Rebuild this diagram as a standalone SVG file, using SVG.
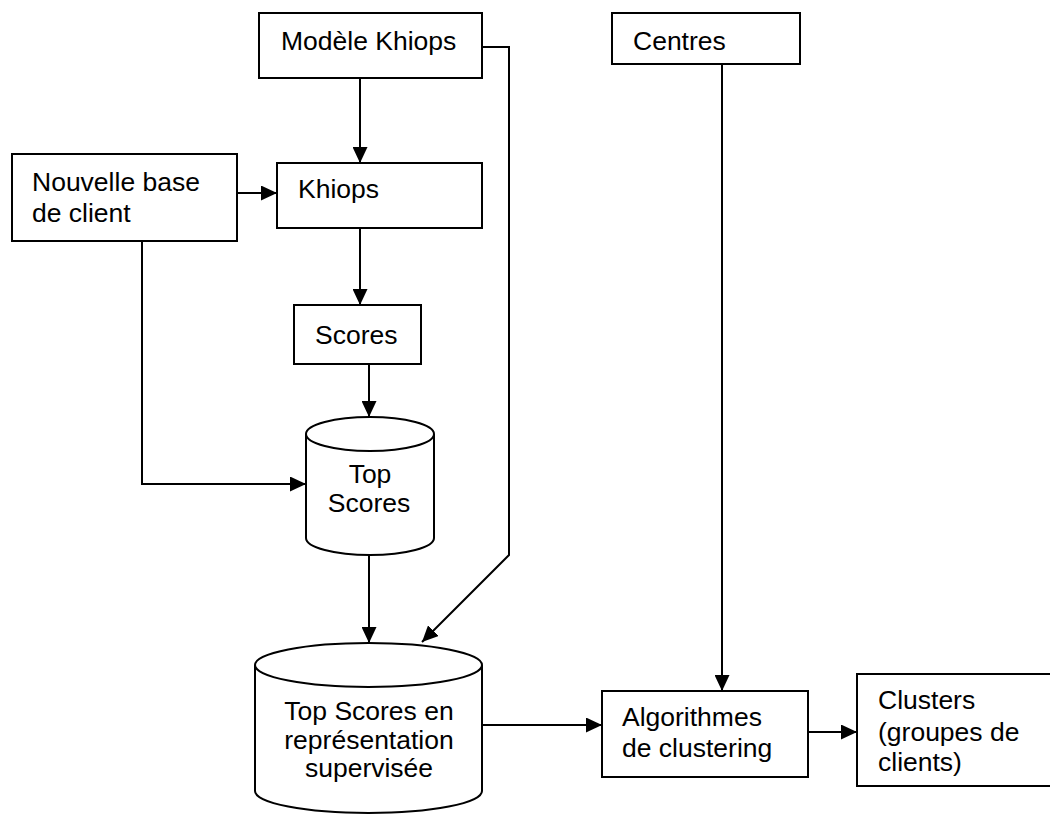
<svg xmlns="http://www.w3.org/2000/svg" width="1050" height="822" viewBox="0 0 1050 822">
<style>
.box{fill:#fff;stroke:#000;stroke-width:2}
.t{font-family:"Liberation Sans",Arial,Helvetica,sans-serif;font-size:26.5px;fill:#000}
.c{text-anchor:middle}
.ln{fill:none;stroke:#000;stroke-width:2}
</style>
<defs>
<marker id="ah" markerUnits="userSpaceOnUse" markerWidth="17" markerHeight="15" refX="16" refY="7.5" orient="auto">
<path d="M0,0 L16,7.5 L0,15 z" fill="#000"/>
</marker>
</defs>
<rect width="1050" height="822" fill="#fff"/>
<g id="connectors">
<path class="ln" d="M360,78 V163" marker-end="url(#ah)"/>
<path class="ln" d="M237,193 H277" marker-end="url(#ah)"/>
<path class="ln" d="M360,228 V305" marker-end="url(#ah)"/>
<path class="ln" d="M369,364 V417" marker-end="url(#ah)"/>
<path class="ln" d="M142,241 V484 H306" marker-end="url(#ah)"/>
<path class="ln" d="M369,555 V643" marker-end="url(#ah)"/>
<path class="ln" d="M482,47 H509 V555 L422,642" marker-end="url(#ah)"/>
<path class="ln" d="M482,725 H602" marker-end="url(#ah)"/>
<path class="ln" d="M722,64 V691" marker-end="url(#ah)"/>
<path class="ln" d="M808,732 H857" marker-end="url(#ah)"/>
</g>
<g id="modele">
<rect class="box" x="259" y="13" width="223" height="65"/>
<text class="t" x="281" y="50">Modèle Khiops</text>
</g>
<g id="centres">
<rect class="box" x="612" y="13" width="188" height="51"/>
<text class="t" x="633" y="50">Centres</text>
</g>
<g id="nouvelle">
<rect class="box" x="12" y="154" width="225" height="87"/>
<text class="t" x="32" y="191">Nouvelle base</text>
<text class="t" x="32" y="222">de client</text>
</g>
<g id="khiops">
<rect class="box" x="277" y="163" width="205" height="65"/>
<text class="t" x="298" y="198">Khiops</text>
</g>
<g id="scores">
<rect class="box" x="294" y="305" width="127" height="59"/>
<text class="t" x="315" y="344">Scores</text>
</g>
<g id="topscores">
<path class="box" d="M306,434 V538 A64,17 0 0 0 434,538 V434"/>
<ellipse class="box" cx="370" cy="434" rx="64" ry="17"/>
<text class="t c" x="370" y="483">Top</text>
<text class="t c" x="369" y="512">Scores</text>
</g>
<g id="topscores-sup">
<path class="box" d="M255,665 V791 A113.5,22 0 0 0 482,791 V665"/>
<ellipse class="box" cx="368.5" cy="665" rx="113.5" ry="22"/>
<text class="t c" x="369" y="720">Top Scores en</text>
<text class="t c" x="369" y="749">représentation</text>
<text class="t c" x="369" y="777">supervisée</text>
</g>
<g id="algorithmes">
<rect class="box" x="602" y="691" width="206" height="86"/>
<text class="t" x="622" y="726">Algorithmes</text>
<text class="t" x="622" y="757">de clustering</text>
</g>
<g id="clusters">
<rect class="box" x="857" y="674" width="200" height="112"/>
<text class="t" x="878" y="709">Clusters</text>
<text class="t" x="878" y="741">(groupes de</text>
<text class="t" x="878" y="771">clients)</text>
</g>
</svg>
